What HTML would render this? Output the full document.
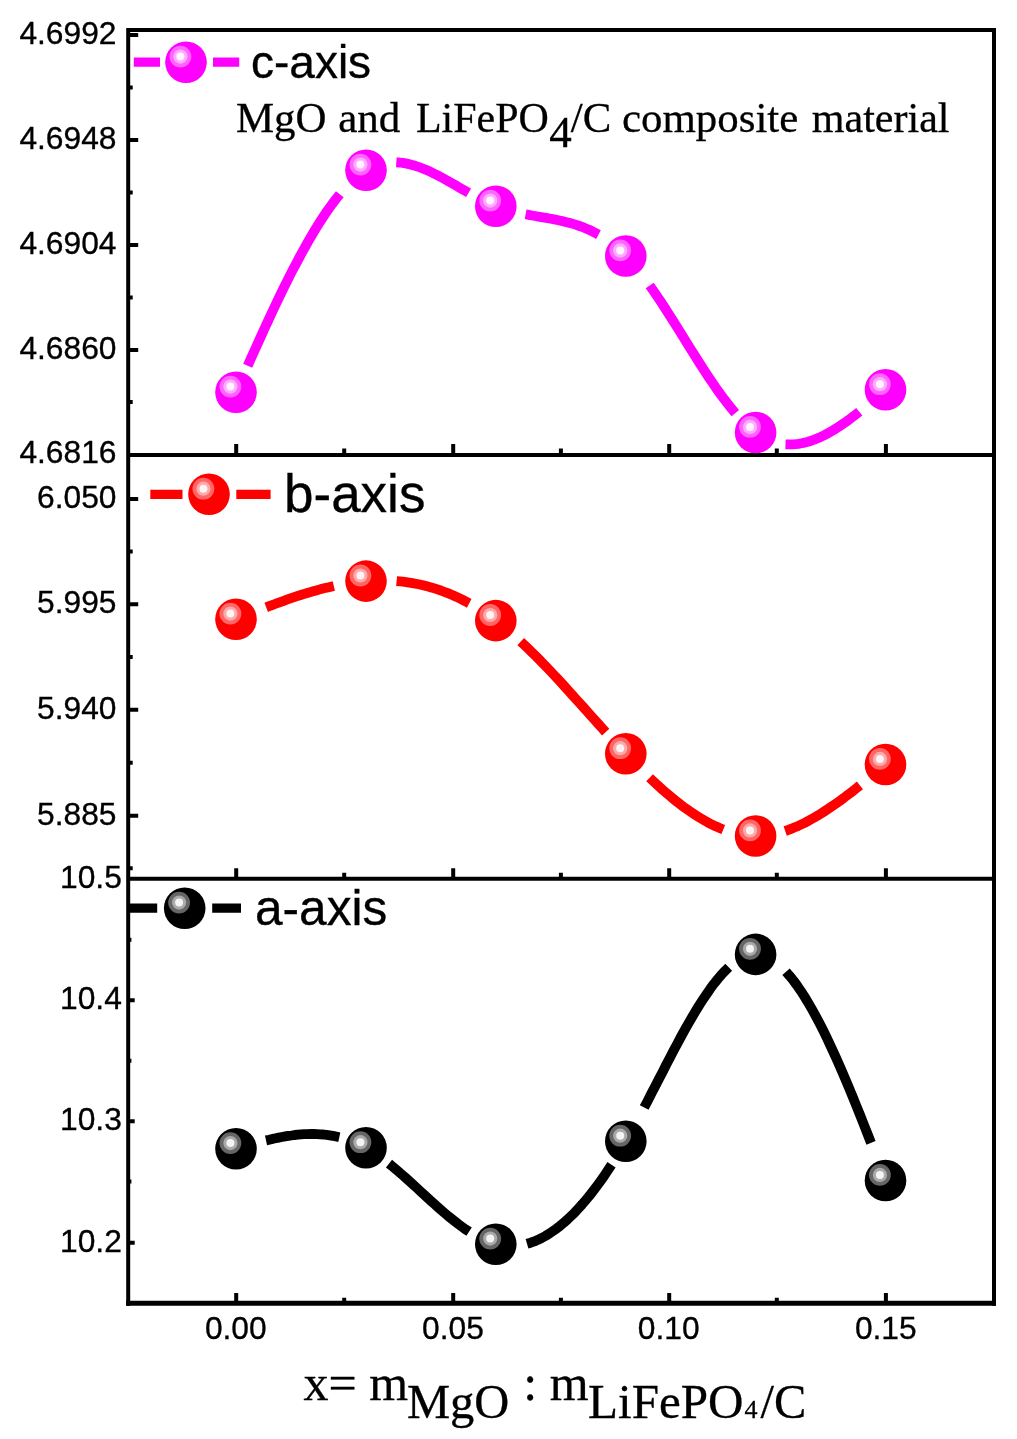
<!DOCTYPE html>
<html><head><meta charset="utf-8"><title>Lattice parameters</title>
<style>
html,body{margin:0;padding:0;background:#fff}
svg{display:block}
.s{font-family:"Liberation Sans",Arial,sans-serif;fill:#000;stroke:#000;stroke-width:0.35px}
.t{font-family:"Liberation Serif","Times New Roman",serif;fill:#000;stroke:#000;stroke-width:0.3px}
</style></head><body>
<svg width="1017" height="1439" viewBox="0 0 1017 1439">
<rect width="1017" height="1439" fill="#fff"/>

<path d="M247.7,365.8 L251.7,356.8 L255.7,347.9 L259.7,339.1 L263.7,330.3 L267.7,321.6 L271.7,313.0 L275.7,304.5 L279.7,296.1 L283.7,287.9 L287.7,279.8 L291.7,271.9 L295.8,264.2 L299.8,256.6 L303.8,249.3 L307.8,242.1 L311.8,235.2 L315.8,228.5 L319.8,222.1 L323.8,216.0 L327.8,210.1 L331.8,204.5 L335.8,199.2 L339.8,194.2" fill="none" stroke="#ff00ff" stroke-width="9.8" stroke-linejoin="round"/>
<path d="M396.3,162.3 L399.4,162.5 L402.6,162.9 L405.7,163.4 L408.9,164.1 L412.0,164.9 L415.2,165.8 L418.3,166.8 L421.4,168.0 L424.6,169.3 L427.7,170.6 L430.9,172.0 L434.0,173.6 L437.2,175.1 L440.3,176.8 L443.5,178.5 L446.6,180.2 L449.7,182.0 L452.9,183.8 L456.0,185.6 L459.2,187.4 L462.3,189.2 L465.5,191.0 L468.6,192.8" fill="none" stroke="#ff00ff" stroke-width="9.8" stroke-linejoin="round"/>
<path d="M525.6,214.3 L528.8,214.9 L531.9,215.5 L535.1,216.0 L538.3,216.6 L541.4,217.1 L544.6,217.7 L547.8,218.2 L551.0,218.8 L554.1,219.4 L557.3,220.0 L560.5,220.7 L563.6,221.4 L566.8,222.2 L570.0,223.0 L573.1,223.9 L576.3,224.9 L579.5,226.0 L582.7,227.1 L585.8,228.4 L589.0,229.8 L592.2,231.3 L595.3,232.9 L598.5,234.6" fill="none" stroke="#ff00ff" stroke-width="9.8" stroke-linejoin="round"/>
<path d="M649.7,285.5 L653.4,290.8 L657.1,296.2 L660.9,301.8 L664.6,307.5 L668.3,313.3 L672.0,319.2 L675.8,325.1 L679.5,331.0 L683.2,337.0 L686.9,343.0 L690.6,349.0 L694.4,354.9 L698.1,360.8 L701.8,366.6 L705.5,372.3 L709.2,378.0 L713.0,383.5 L716.7,388.9 L720.4,394.1 L724.1,399.1 L727.9,404.0 L731.6,408.7 L735.3,413.1" fill="none" stroke="#ff00ff" stroke-width="9.8" stroke-linejoin="round"/>
<path d="M785.5,444.3 L788.7,444.4 L791.9,444.4 L795.1,444.2 L798.3,443.9 L801.5,443.3 L804.8,442.6 L808.0,441.7 L811.2,440.7 L814.4,439.6 L817.6,438.3 L820.8,436.9 L824.0,435.3 L827.2,433.6 L830.4,431.9 L833.6,430.0 L836.8,428.0 L840.0,425.9 L843.3,423.7 L846.5,421.5 L849.7,419.1 L852.9,416.7 L856.1,414.3 L859.3,411.7" fill="none" stroke="#ff00ff" stroke-width="9.8" stroke-linejoin="round"/>
<path d="M266.2,607.3 L269.1,606.2 L272.1,605.1 L275.0,604.0 L278.0,602.9 L280.9,601.8 L283.8,600.8 L286.8,599.7 L289.7,598.7 L292.7,597.7 L295.6,596.7 L298.5,595.7 L301.5,594.8 L304.4,593.9 L307.3,593.0 L310.3,592.1 L313.2,591.2 L316.2,590.4 L319.1,589.6 L322.0,588.8 L325.0,588.1 L327.9,587.4 L330.9,586.7 L333.8,586.0" fill="none" stroke="#ff0000" stroke-width="9.8" stroke-linejoin="round"/>
<path d="M396.6,581.1 L399.8,581.4 L402.9,581.7 L406.1,582.1 L409.2,582.6 L412.4,583.1 L415.5,583.7 L418.7,584.3 L421.9,585.0 L425.0,585.8 L428.2,586.6 L431.3,587.5 L434.5,588.4 L437.6,589.4 L440.8,590.5 L443.9,591.7 L447.1,592.9 L450.3,594.1 L453.4,595.5 L456.6,596.9 L459.7,598.4 L462.9,600.0 L466.0,601.6 L469.2,603.3" fill="none" stroke="#ff0000" stroke-width="9.8" stroke-linejoin="round"/>
<path d="M520.7,641.6 L524.4,645.0 L528.1,648.6 L531.8,652.2 L535.5,655.8 L539.2,659.5 L542.9,663.3 L546.6,667.1 L550.3,671.0 L554.0,675.0 L557.7,678.9 L561.4,682.9 L565.0,686.9 L568.7,691.0 L572.4,695.1 L576.1,699.2 L579.8,703.3 L583.5,707.4 L587.2,711.5 L590.9,715.7 L594.6,719.8 L598.3,723.9 L602.0,728.0 L605.7,732.1" fill="none" stroke="#ff0000" stroke-width="9.8" stroke-linejoin="round"/>
<path d="M649.6,777.8 L652.8,780.8 L656.0,783.8 L659.2,786.7 L662.4,789.6 L665.6,792.4 L668.8,795.1 L672.0,797.8 L675.2,800.4 L678.4,802.9 L681.6,805.4 L684.8,807.8 L688.1,810.1 L691.3,812.3 L694.5,814.4 L697.7,816.5 L700.9,818.4 L704.1,820.3 L707.3,822.1 L710.5,823.8 L713.7,825.4 L716.9,826.8 L720.1,828.2 L723.3,829.5" fill="none" stroke="#ff0000" stroke-width="9.8" stroke-linejoin="round"/>
<path d="M785.2,831.0 L788.4,829.9 L791.7,828.6 L794.9,827.3 L798.2,825.9 L801.4,824.4 L804.7,822.8 L807.9,821.1 L811.2,819.3 L814.4,817.5 L817.7,815.6 L820.9,813.6 L824.2,811.5 L827.4,809.4 L830.7,807.2 L833.9,805.0 L837.2,802.7 L840.4,800.4 L843.7,798.0 L846.9,795.5 L850.2,793.1 L853.4,790.6 L856.7,788.0 L859.9,785.4" fill="none" stroke="#ff0000" stroke-width="9.8" stroke-linejoin="round"/>
<path d="M266.0,1140.4 L269.2,1139.7 L272.4,1138.9 L275.6,1138.3 L278.7,1137.6 L281.9,1137.0 L285.1,1136.4 L288.3,1135.9 L291.5,1135.5 L294.7,1135.0 L297.9,1134.7 L301.1,1134.4 L304.2,1134.2 L307.4,1134.1 L310.6,1134.0 L313.8,1134.0 L317.0,1134.1 L320.2,1134.3 L323.4,1134.5 L326.6,1134.9 L329.7,1135.3 L332.9,1135.8 L336.1,1136.5 L339.3,1137.2" fill="none" stroke="#000000" stroke-width="9.8" stroke-linejoin="round"/>
<path d="M389.0,1163.7 L392.5,1166.5 L396.0,1169.4 L399.4,1172.4 L402.9,1175.4 L406.4,1178.5 L409.9,1181.6 L413.4,1184.8 L416.9,1188.0 L420.3,1191.2 L423.8,1194.4 L427.3,1197.6 L430.8,1200.8 L434.3,1203.9 L437.8,1207.1 L441.2,1210.1 L444.7,1213.1 L448.2,1216.1 L451.7,1218.9 L455.2,1221.7 L458.7,1224.4 L462.1,1226.9 L465.6,1229.4 L469.1,1231.7" fill="none" stroke="#000000" stroke-width="9.8" stroke-linejoin="round"/>
<path d="M527.0,1243.8 L530.7,1242.7 L534.3,1241.4 L538.0,1239.8 L541.7,1238.0 L545.4,1236.0 L549.0,1233.8 L552.7,1231.3 L556.4,1228.7 L560.1,1225.8 L563.7,1222.8 L567.4,1219.5 L571.1,1216.0 L574.8,1212.4 L578.4,1208.5 L582.1,1204.4 L585.8,1200.1 L589.5,1195.7 L593.1,1191.0 L596.8,1186.1 L600.5,1181.1 L604.2,1175.9 L607.8,1170.4 L611.5,1164.8" fill="none" stroke="#000000" stroke-width="9.8" stroke-linejoin="round"/>
<path d="M644.2,1107.5 L647.9,1100.4 L651.5,1093.3 L655.2,1086.2 L658.9,1079.0 L662.6,1071.9 L666.2,1064.7 L669.9,1057.7 L673.6,1050.6 L677.3,1043.7 L680.9,1036.9 L684.6,1030.2 L688.3,1023.7 L692.0,1017.3 L695.6,1011.1 L699.3,1005.1 L703.0,999.4 L706.7,993.9 L710.3,988.7 L714.0,983.7 L717.7,979.1 L721.4,974.8 L725.0,970.9 L728.7,967.3" fill="none" stroke="#000000" stroke-width="9.8" stroke-linejoin="round"/>
<path d="M786.0,971.7 L789.7,975.9 L793.4,980.5 L797.1,985.5 L800.8,990.9 L804.5,996.6 L808.2,1002.7 L811.9,1009.1 L815.6,1015.8 L819.3,1022.8 L823.0,1030.0 L826.7,1037.6 L830.3,1045.4 L834.0,1053.4 L837.7,1061.6 L841.4,1070.0 L845.1,1078.7 L848.8,1087.4 L852.5,1096.4 L856.2,1105.5 L859.9,1114.7 L863.6,1124.0 L867.3,1133.4 L871.0,1142.9" fill="none" stroke="#000000" stroke-width="9.8" stroke-linejoin="round"/>
<g stroke="#000" fill="none" stroke-linecap="butt">
<path d="M128.2,28 V1305.8 M994,28 V1305.8" stroke-width="4"/>
<path d="M128.2,30 H994 M128.2,455 H994 M128.2,878.8 H994" stroke-width="4"/>
<path d="M126.19999999999999,1303.3 H996" stroke-width="5"/>
<path d="M128.2,35 h10 M128.2,140 h10 M128.2,245 h10 M128.2,350 h10 M128.2,87.5 h4.5 M128.2,192.5 h4.5 M128.2,297.5 h4.5 M128.2,402 h4.5 M128.2,499 h10 M128.2,604.3 h10 M128.2,709.8 h10 M128.2,815.7 h10 M128.2,551.6 h4.5 M128.2,657 h4.5 M128.2,762.8 h4.5 M128.2,868.2 h4.5 " stroke-width="4"/>
<path d="M128.2,1000.2 h6.5 M128.2,1121.3 h6.5 M128.2,1242.8 h6.5 M128.2,939.7 h3.2 M128.2,1060.7 h3.2 M128.2,1181.5 h3.2 " stroke-width="4"/>
<path d="M236.2,455 v-11 M453.2,455 v-11 M669.2,455 v-11 M885.9,455 v-11 M344.2,455 v-6.5 M560.9,455 v-6.5 M776.8,455 v-6.5 M236.2,878.8 v-10.5 M453.2,878.8 v-10.5 M669.2,878.8 v-10.5 M885.9,878.8 v-10.5 M344.2,878.8 v-6 M560.9,878.8 v-6 M776.8,878.8 v-6 M236.2,1303.3 v-10.3 M453.2,1303.3 v-10.3 M669.2,1303.3 v-10.3 M885.9,1303.3 v-10.3 M344.2,1303.3 v-5.6 M560.9,1303.3 v-5.6 M776.8,1303.3 v-5.6 " stroke-width="4"/>
</g>
<circle cx="236.0" cy="392.2" r="20.8" fill="#ff00ff"/><circle cx="230.4" cy="386.6" r="10.9" fill="#ff66ff"/><circle cx="230.4" cy="386.6" r="7.1" fill="#ffaaff"/><circle cx="230.4" cy="386.6" r="4.0" fill="#fff4ff"/>
<circle cx="366.0" cy="170.2" r="20.8" fill="#ff00ff"/><circle cx="360.4" cy="164.6" r="10.9" fill="#ff66ff"/><circle cx="360.4" cy="164.6" r="7.1" fill="#ffaaff"/><circle cx="360.4" cy="164.6" r="4.0" fill="#fff4ff"/>
<circle cx="495.8" cy="206.2" r="20.8" fill="#ff00ff"/><circle cx="490.2" cy="200.6" r="10.9" fill="#ff66ff"/><circle cx="490.2" cy="200.6" r="7.1" fill="#ffaaff"/><circle cx="490.2" cy="200.6" r="4.0" fill="#fff4ff"/>
<circle cx="625.8" cy="256.0" r="20.8" fill="#ff00ff"/><circle cx="620.2" cy="250.4" r="10.9" fill="#ff66ff"/><circle cx="620.2" cy="250.4" r="7.1" fill="#ffaaff"/><circle cx="620.2" cy="250.4" r="4.0" fill="#fff4ff"/>
<circle cx="755.6" cy="432.5" r="20.8" fill="#ff00ff"/><circle cx="750.0" cy="426.9" r="10.9" fill="#ff66ff"/><circle cx="750.0" cy="426.9" r="7.1" fill="#ffaaff"/><circle cx="750.0" cy="426.9" r="4.0" fill="#fff4ff"/>
<circle cx="885.5" cy="389.8" r="20.8" fill="#ff00ff"/><circle cx="879.9" cy="384.2" r="10.9" fill="#ff66ff"/><circle cx="879.9" cy="384.2" r="7.1" fill="#ffaaff"/><circle cx="879.9" cy="384.2" r="4.0" fill="#fff4ff"/>
<circle cx="236.0" cy="619.2" r="20.8" fill="#ff0000"/><circle cx="230.4" cy="613.6" r="10.9" fill="#ff6666"/><circle cx="230.4" cy="613.6" r="7.1" fill="#ffaaaa"/><circle cx="230.4" cy="613.6" r="4.0" fill="#fff4f4"/>
<circle cx="366.0" cy="581.1" r="20.8" fill="#ff0000"/><circle cx="360.4" cy="575.5" r="10.9" fill="#ff6666"/><circle cx="360.4" cy="575.5" r="7.1" fill="#ffaaaa"/><circle cx="360.4" cy="575.5" r="4.0" fill="#fff4f4"/>
<circle cx="495.8" cy="620.6" r="20.8" fill="#ff0000"/><circle cx="490.2" cy="615.0" r="10.9" fill="#ff6666"/><circle cx="490.2" cy="615.0" r="7.1" fill="#ffaaaa"/><circle cx="490.2" cy="615.0" r="4.0" fill="#fff4f4"/>
<circle cx="625.8" cy="753.8" r="20.8" fill="#ff0000"/><circle cx="620.2" cy="748.2" r="10.9" fill="#ff6666"/><circle cx="620.2" cy="748.2" r="7.1" fill="#ffaaaa"/><circle cx="620.2" cy="748.2" r="4.0" fill="#fff4f4"/>
<circle cx="755.6" cy="836.0" r="20.8" fill="#ff0000"/><circle cx="750.0" cy="830.4" r="10.9" fill="#ff6666"/><circle cx="750.0" cy="830.4" r="7.1" fill="#ffaaaa"/><circle cx="750.0" cy="830.4" r="4.0" fill="#fff4f4"/>
<circle cx="885.5" cy="764.5" r="20.8" fill="#ff0000"/><circle cx="879.9" cy="758.9" r="10.9" fill="#ff6666"/><circle cx="879.9" cy="758.9" r="7.1" fill="#ffaaaa"/><circle cx="879.9" cy="758.9" r="4.0" fill="#fff4f4"/>
<circle cx="236.0" cy="1148.7" r="20.8" fill="#000000"/><circle cx="230.4" cy="1143.1" r="10.9" fill="#666666"/><circle cx="230.4" cy="1143.1" r="7.1" fill="#aaaaaa"/><circle cx="230.4" cy="1143.1" r="4.0" fill="#f4f4f4"/>
<circle cx="366.0" cy="1147.8" r="20.8" fill="#000000"/><circle cx="360.4" cy="1142.2" r="10.9" fill="#666666"/><circle cx="360.4" cy="1142.2" r="7.1" fill="#aaaaaa"/><circle cx="360.4" cy="1142.2" r="4.0" fill="#f4f4f4"/>
<circle cx="495.8" cy="1244.2" r="20.8" fill="#000000"/><circle cx="490.2" cy="1238.6" r="10.9" fill="#666666"/><circle cx="490.2" cy="1238.6" r="7.1" fill="#aaaaaa"/><circle cx="490.2" cy="1238.6" r="4.0" fill="#f4f4f4"/>
<circle cx="625.8" cy="1141.3" r="20.8" fill="#000000"/><circle cx="620.2" cy="1135.7" r="10.9" fill="#666666"/><circle cx="620.2" cy="1135.7" r="7.1" fill="#aaaaaa"/><circle cx="620.2" cy="1135.7" r="4.0" fill="#f4f4f4"/>
<circle cx="755.6" cy="954.4" r="20.8" fill="#000000"/><circle cx="750.0" cy="948.8" r="10.9" fill="#666666"/><circle cx="750.0" cy="948.8" r="7.1" fill="#aaaaaa"/><circle cx="750.0" cy="948.8" r="4.0" fill="#f4f4f4"/>
<circle cx="885.5" cy="1180.5" r="20.8" fill="#000000"/><circle cx="879.9" cy="1174.9" r="10.9" fill="#666666"/><circle cx="879.9" cy="1174.9" r="7.1" fill="#aaaaaa"/><circle cx="879.9" cy="1174.9" r="4.0" fill="#f4f4f4"/>
<path d="M133.8,62.2 H160 M213,62.2 H239.2" stroke="#ff00ff" stroke-width="9.3" fill="none"/><circle cx="186.0" cy="62.2" r="20.8" fill="#ff00ff"/><circle cx="180.4" cy="56.6" r="10.9" fill="#ff66ff"/><circle cx="180.4" cy="56.6" r="7.1" fill="#ffaaff"/><circle cx="180.4" cy="56.6" r="4.0" fill="#fff4ff"/>
<path d="M150.3,494.3 H182.5 M236.3,494.3 H270.6" stroke="#ff0000" stroke-width="9.3" fill="none"/><circle cx="209.0" cy="494.3" r="20.8" fill="#ff0000"/><circle cx="203.4" cy="488.7" r="10.9" fill="#ff6666"/><circle cx="203.4" cy="488.7" r="7.1" fill="#ffaaaa"/><circle cx="203.4" cy="488.7" r="4.0" fill="#fff4f4"/>
<path d="M130,908.2 H157.2 M212.2,908.2 H241" stroke="#000000" stroke-width="9.3" fill="none"/><circle cx="184.7" cy="908.2" r="20.8" fill="#000000"/><circle cx="179.1" cy="902.6" r="10.9" fill="#666666"/><circle cx="179.1" cy="902.6" r="7.1" fill="#aaaaaa"/><circle cx="179.1" cy="902.6" r="4.0" fill="#f4f4f4"/>
<text class="s" x="251" y="78" font-size="46">c-axis</text>
<text class="s" x="284" y="511.6" font-size="53">b-axis</text>
<text class="s" x="255" y="925" font-size="49.6">a-axis</text>
<text class="s" x="19.4" y="43.8" font-size="32" textLength="97.1" lengthAdjust="spacingAndGlyphs">4.6992</text>
<text class="s" x="19.4" y="148.8" font-size="32" textLength="97.1" lengthAdjust="spacingAndGlyphs">4.6948</text>
<text class="s" x="19.4" y="253.8" font-size="32" textLength="97.1" lengthAdjust="spacingAndGlyphs">4.6904</text>
<text class="s" x="19.4" y="358.8" font-size="32" textLength="97.1" lengthAdjust="spacingAndGlyphs">4.6860</text>
<text class="s" x="19.4" y="462.8" font-size="32" textLength="97.1" lengthAdjust="spacingAndGlyphs">4.6816</text>
<text class="s" x="37.1" y="507.6" font-size="32" textLength="79.4" lengthAdjust="spacingAndGlyphs">6.050</text>
<text class="s" x="37.1" y="613" font-size="32" textLength="79.4" lengthAdjust="spacingAndGlyphs">5.995</text>
<text class="s" x="37.1" y="718.7" font-size="32" textLength="79.4" lengthAdjust="spacingAndGlyphs">5.940</text>
<text class="s" x="37.1" y="824.5" font-size="32" textLength="79.4" lengthAdjust="spacingAndGlyphs">5.885</text>
<text class="s" x="60.0" y="887.5" font-size="32" textLength="61.8" lengthAdjust="spacingAndGlyphs">10.5</text>
<text class="s" x="60.0" y="1009" font-size="32" textLength="61.8" lengthAdjust="spacingAndGlyphs">10.4</text>
<text class="s" x="60.0" y="1130" font-size="32" textLength="61.8" lengthAdjust="spacingAndGlyphs">10.3</text>
<text class="s" x="60.0" y="1251.7" font-size="32" textLength="61.8" lengthAdjust="spacingAndGlyphs">10.2</text>
<text class="s" x="204.9" y="1338.6" font-size="32" textLength="61.8" lengthAdjust="spacingAndGlyphs">0.00</text>
<text class="s" x="422.0" y="1338.6" font-size="32" textLength="61.8" lengthAdjust="spacingAndGlyphs">0.05</text>
<text class="s" x="637.8" y="1338.6" font-size="32" textLength="61.8" lengthAdjust="spacingAndGlyphs">0.10</text>
<text class="s" x="854.9" y="1338.6" font-size="32" textLength="61.8" lengthAdjust="spacingAndGlyphs">0.15</text>
<text class="t" x="236" y="131.8" font-size="41.5" textLength="90.5" lengthAdjust="spacingAndGlyphs">MgO</text>
<text class="t" x="338.2" y="131.8" font-size="41.5" textLength="62" lengthAdjust="spacingAndGlyphs">and</text>
<text class="t" x="416" y="131.8" font-size="41.5" textLength="132.8" lengthAdjust="spacingAndGlyphs">LiFePO</text>
<text class="t" x="549.3" y="146.6" font-size="45">4</text>
<text class="t" x="570.8" y="131.8" font-size="41.5" textLength="40.5" lengthAdjust="spacingAndGlyphs">/C</text>
<text class="t" x="622" y="131.8" font-size="41.5" textLength="176.3" lengthAdjust="spacingAndGlyphs">composite</text>
<text class="t" x="811.8" y="131.8" font-size="41.5" textLength="137.7" lengthAdjust="spacingAndGlyphs">material</text>
<text class="t" x="303.6" y="1400.1" font-size="50">x= m</text>
<text class="t" x="407" y="1418" font-size="48.5">MgO</text>
<text class="t" x="523.3" y="1400.1" font-size="50">: m</text>
<text class="t" x="588" y="1418" font-size="48.5" textLength="155.6" lengthAdjust="spacingAndGlyphs">LiFePO</text>
<text class="t" x="744.5" y="1418" font-size="26">4</text>
<text class="t" x="760.6" y="1418" font-size="48.5">/C</text>
</svg></body></html>
